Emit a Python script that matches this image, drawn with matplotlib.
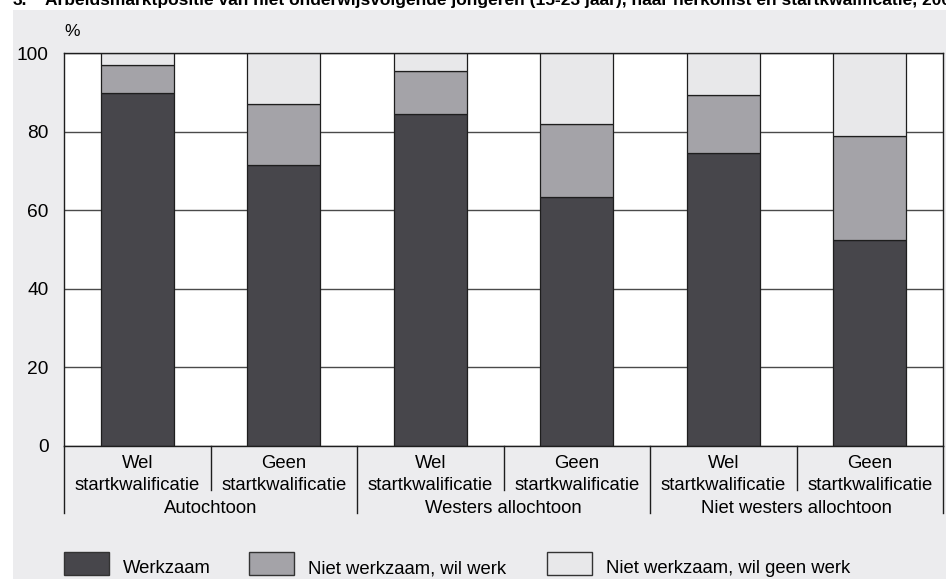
import matplotlib

matplotlib.use("Agg")
import matplotlib.pyplot as plt
from matplotlib.patches import Rectangle
from matplotlib.transforms import blended_transform_factory

plt.rcParams["font.family"] = ["Liberation Sans", "DejaVu Sans"]

TITLE = ("Arbeidsmarktpositie van niet onderwijsvolgende jongeren (15-23 jaar), "
         "naar herkomst en startkwalificatie, 2005")
groups = ["Autochtoon", "Westers allochtoon", "Niet westers allochtoon"]
subgroups = ["Wel", "Geen"]
sub_second = "startkwalificatie"
series_names = ["Werkzaam", "Niet werkzaam, wil werk", "Niet werkzaam, wil geen werk"]
werkzaam = [90, 71.5, 84.5, 63.5, 74.5, 52.5]
wil_werk = [7, 15.5, 11, 18.5, 15, 26.5]
geen_werk = [3, 13, 4.5, 18, 10.5, 21]
yticks = [0, 20, 40, 60, 80, 100]

COLORS = ["#47464b", "#a4a3a8", "#e8e8ea"]
PANEL = "#ececee"
W, H = 946, 579
FS = 13.3

fig = plt.figure(figsize=(W / 100, H / 100), dpi=100, facecolor="white")
fig.patches.append(Rectangle((13 / W, 0), 1 - 13 / W, (H - 10) / H,
                             transform=fig.transFigure, facecolor=PANEL,
                             edgecolor="none", zorder=-1))

# title is clipped by the top edge in the source image
fig.text(13 / W, 1 - 5 / H, "3.", fontsize=12.5, weight="bold", va="baseline")
fig.text(45 / W, 1 - 5 / H, TITLE, fontsize=12.5, weight="bold", va="baseline")

ax = fig.add_axes([64 / W, (H - 446) / H, (943 - 64) / W, (446 - 53.3) / H])
ax.set_zorder(1)
ax.set_facecolor("white")
ax.set_axisbelow(True)
ax.yaxis.grid(True, color="#4a4a4a", linewidth=1.0)

x = list(range(len(werkzaam)))
bottom = [0] * len(x)
for values, color in zip((werkzaam, wil_werk, geen_werk), COLORS):
    ax.bar(x, values, bottom=bottom, width=0.5, color=color,
           edgecolor="#1e1e1e", linewidth=0.9, zorder=2)
    bottom = [b + v for b, v in zip(bottom, values)]

ax.set_xlim(-0.5, len(x) - 0.5)
ax.set_ylim(0, 100)
ax.set_yticks(yticks)
ax.set_yticklabels([str(t) for t in yticks], fontsize=13.8)
ax.tick_params(axis="y", length=0, pad=11)
ax.set_xticks([])
for side in ("left", "right", "top", "bottom"):
    ax.spines[side].set_color("#1e1e1e")
    ax.spines[side].set_linewidth(1.0)

ax.text(0, 1.056, "%", transform=ax.transAxes, fontsize=12.5, va="center", ha="left")

# two-level category axis
trans = blended_transform_factory(ax.transData, ax.transAxes)
plot_h = 446 - 53.3
base1 = -(467.7 - 446) / plot_h
base2 = -(490 - 446) / plot_h
base3 = -(513 - 446) / plot_h
for i in x:
    ax.text(i, base1, subgroups[i % 2], transform=trans, ha="center",
            va="baseline", fontsize=FS)
    ax.text(i, base2, sub_second, transform=trans, ha="center",
            va="baseline", fontsize=FS)
for g, name in enumerate(groups):
    ax.text(2 * g + 0.5, base3, name, transform=trans, ha="center",
            va="baseline", fontsize=FS)
for k in range(len(x) + 1):
    end = base3 if k % 2 == 0 else base2
    ax.plot([k - 0.5, k - 0.5], [0, end], transform=trans, color="#1e1e1e",
            linewidth=1.0, clip_on=False)

# legend drawn by hand to sit on the panel like the source
legend_boxes = [64, 249, 547]
for left, name, color in zip(legend_boxes, series_names, COLORS):
    fig.patches.append(Rectangle((left / W, (H - 575) / H), 45 / W, 23 / H,
                                 transform=fig.transFigure, facecolor=color,
                                 edgecolor="#333333", linewidth=1.0, zorder=3))
    fig.text((left + 59) / W, (H - 573) / H, name, fontsize=FS, va="baseline")

fig.savefig("out.png", dpi=100, facecolor=fig.get_facecolor())
